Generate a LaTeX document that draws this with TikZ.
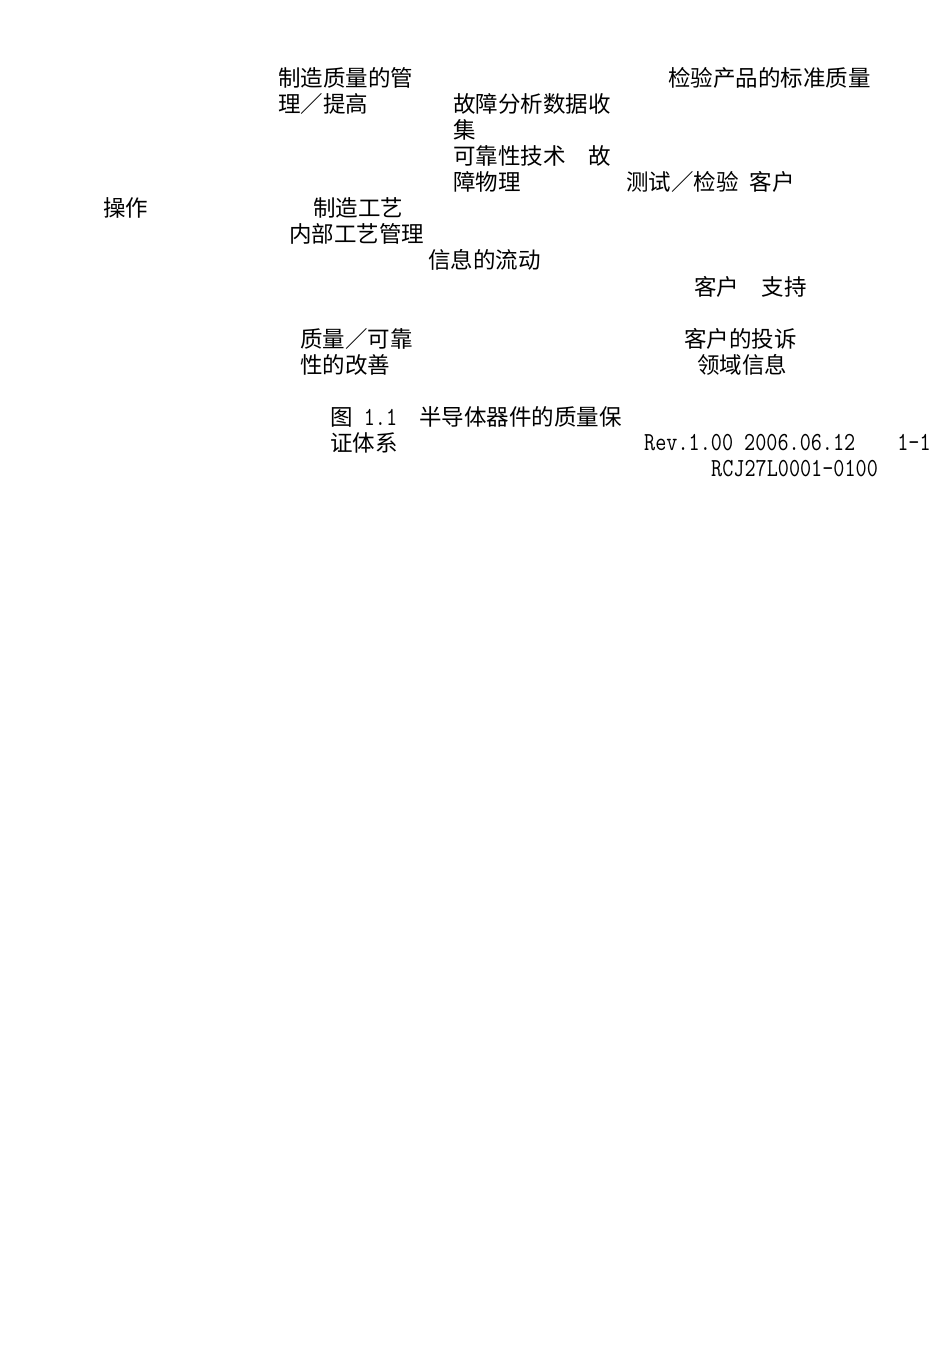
\documentclass[tikz,border=0pt]{standalone}
\usepackage{fontspec}
\newfontfamily\cjk{Noto Sans CJK SC}
\newfontfamily\latmono[FakeStretch=0.83]{Latin Modern Mono}
\newcommand{\monotxt}[1]{{\latmono\fontsize{26}{26}\selectfont #1}}

\begin{document}
\begin{tikzpicture}[x=1pt,y=-1pt,
    lbl/.style={inner sep=0pt, anchor=base west, align=left,
      font=\cjk\fontsize{22.5}{26}\selectfont},
    mono/.style={inner sep=0pt, anchor=base west,
      font=\latmono\fontsize{26}{26}\selectfont}]

    % page
    \useasboundingbox[fill=white] (0,0) rectangle (950,1350);

    % top row (multi-line nodes sit on their last line)
    \node[lbl] (mfgqual) at (278,112.5) {制造质量的管\\理／提高};
    \node[lbl] (stdqual) at (668,86.5) {检验产品的标准质量};
    \node[lbl] (failana) at (453,190.5) {故障分析数据收\\集\\可靠性技术　故\\障物理};
    \node[lbl] (testcust) at (626,190.5) {测试／检验\monotxt{\ }客户};

    % middle row
    \node[lbl] (oper) at (103,216.5) {操作};
    \node[lbl] (mfgproc) at (313,216.5) {制造工艺};
    \node[lbl] (inproc) at (289,242.5) {内部工艺管理};
    \node[lbl] (infoflow) at (428,268.5) {信息的流动};
    \node[lbl] (custsup) at (694,295.5) {客户　支持};

    % bottom row
    \node[lbl] (improve) at (300,373.5) {质量／可靠\\性的改善};
    \node[lbl] (complain) at (684,347.5) {客户的投诉};
    \node[lbl] (field) at (697,373.5) {领域信息};

    % caption and footer
    \node[lbl] (caption) at (330,451.5) {图\monotxt{\ 1.1\ \ }半导体器件的质量保\\证体系};
    \node[mono] (rev) at (644,450.5) {Rev.1.00 2006.06.12\hspace*{42pt}1-1};
    \node[mono] (docno) at (711,476.5) {RCJ27L0001-0100};
\end{tikzpicture}
\end{document}
